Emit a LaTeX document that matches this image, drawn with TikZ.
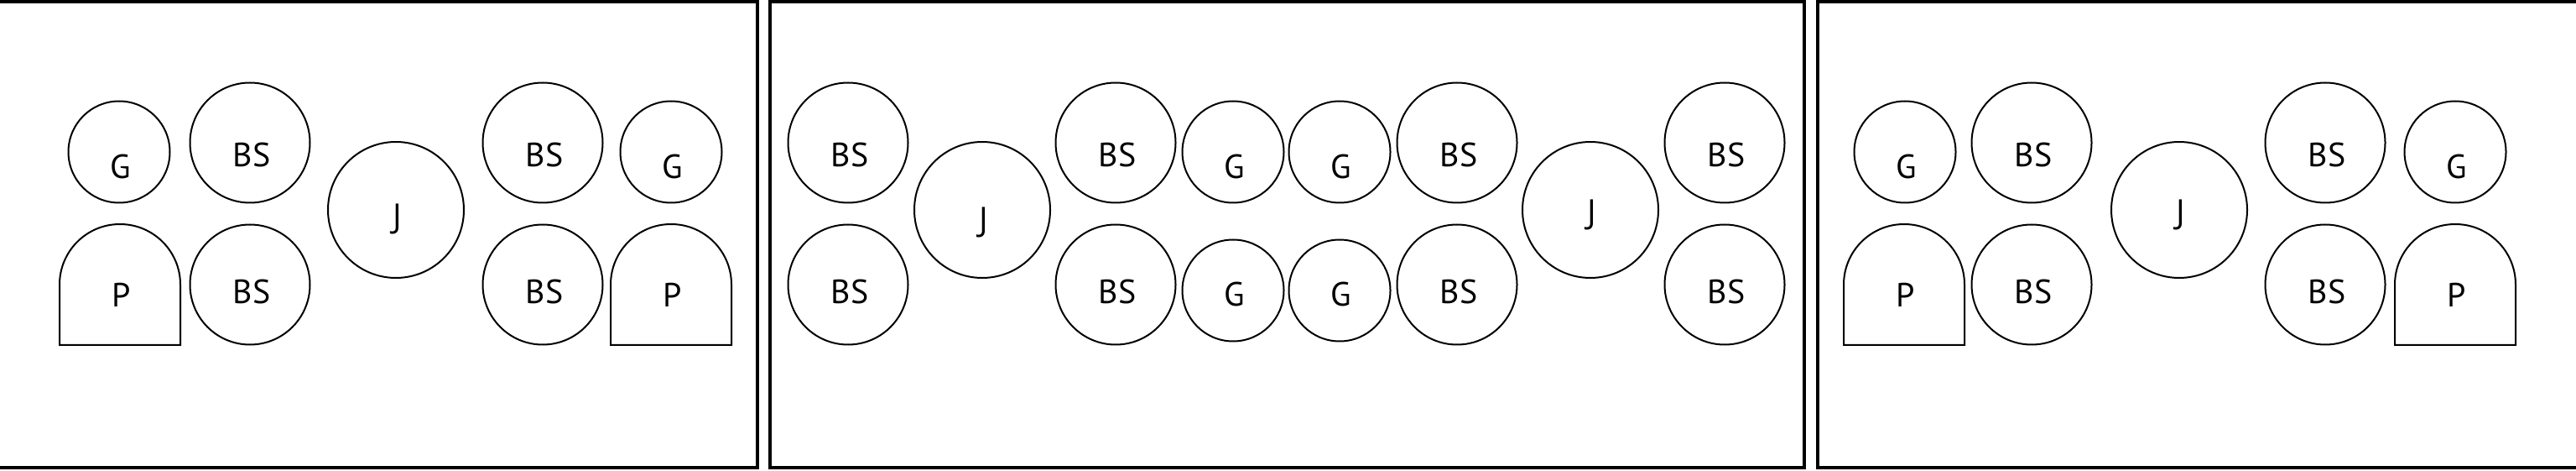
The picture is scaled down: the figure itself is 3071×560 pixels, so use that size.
\documentclass[tikz,border=0pt]{standalone}
\usepackage{fontspec}
\setmainfont{PT Sans}
\newfontfamily\jfont{Open Sans}
\begin{document}
\begin{tikzpicture}[x=1pt,y=1pt,
  bs/.style={circle, draw, line width=2pt, minimum size=143pt, inner sep=0pt},
  gg/.style={circle, draw, line width=2pt, minimum size=121pt, inner sep=0pt},
  jj/.style={circle, draw, line width=2pt, minimum size=162pt, inner sep=0pt},
  lbl/.style={anchor=base, font=\fontsize{40}{42}\selectfont, inner sep=0pt, xshift=2pt},
  jlbl/.style={lbl, font=\jfont\fontsize{40}{42}\selectfont},
  frm/.style={draw, line width=4pt},
  pshape/.style={draw, line width=2pt, line join=miter}]
\useasboundingbox (0,0) rectangle (3071,560);
% frames
\draw[frm] (-10,3) rectangle (903,558);
\draw[frm] (918,3) rectangle (2151,558);
\draw[frm] (2167,3) rectangle (3081,558);
% frame 1
\node[gg] (a1) at (142,379) {};
\node[bs] (a2) at (298,390) {};
\node[bs] (a3) at (298,221) {};
\node[jj] (a4) at (472,310) {};
\node[bs] (a5) at (647,390) {};
\node[bs] (a6) at (647,221) {};
\node[gg] (a7) at (800,379) {};
\coordinate (p1) at (143,221);
\coordinate (p2) at (800,221);
\draw[pshape] (71,149) -- (71,221) arc[start angle=180,end angle=0,radius=72] -- (215,149) -- cycle;
\draw[pshape] (728,149) -- (728,221) arc[start angle=180,end angle=0,radius=72] -- (872,149) -- cycle;
\node[lbl] (la1) at ([yshift=-32pt]a1.center) {G};
\node[lbl] (la2) at ([yshift=-29pt]a2.center) {BS};
\node[lbl] (la3) at ([yshift=-23pt]a3.center) {BS};
\node[jlbl] (la4) at ([yshift=-21.5pt]a4.center) {J};
\node[lbl] (la5) at ([yshift=-29pt]a5.center) {BS};
\node[lbl] (la6) at ([yshift=-23pt]a6.center) {BS};
\node[lbl] (la7) at ([yshift=-32pt]a7.center) {G};
\node[lbl] (lp1) at ([yshift=-27pt]p1) {P};
\node[lbl] (lp2) at ([yshift=-27pt]p2) {P};
% frame 2
\node[bs] (b1) at (1011,390) {};
\node[bs] (b2) at (1011,221) {};
\node[jj] (b3) at (1171,310) {};
\node[bs] (b4) at (1330,390) {};
\node[bs] (b5) at (1330,221) {};
\node[gg] (b6) at (1470,379) {};
\node[gg] (b7) at (1470,214) {};
\node[gg] (b8) at (1597,379) {};
\node[gg] (b9) at (1597,214) {};
\node[bs] (b10) at (1737,390) {};
\node[bs] (b11) at (1737,221) {};
\node[jj] (b12) at (1896,310) {};
\node[bs] (b13) at (2056,390) {};
\node[bs] (b14) at (2056,221) {};
\node[lbl] (lb1) at ([yshift=-29pt]b1.center) {BS};
\node[lbl] (lb2) at ([yshift=-23pt]b2.center) {BS};
\node[jlbl] (lb3) at ([yshift=-25.5pt]b3.center) {J};
\node[lbl] (lb4) at ([yshift=-29pt]b4.center) {BS};
\node[lbl] (lb5) at ([yshift=-23pt]b5.center) {BS};
\node[lbl] (lb6) at ([yshift=-32pt]b6.center) {G};
\node[lbl] (lb7) at ([yshift=-19pt]b7.center) {G};
\node[lbl] (lb8) at ([yshift=-32pt]b8.center) {G};
\node[lbl] (lb9) at ([yshift=-19pt]b9.center) {G};
\node[lbl] (lb10) at ([yshift=-29pt]b10.center) {BS};
\node[lbl] (lb11) at ([yshift=-23pt]b11.center) {BS};
\node[jlbl] (lb12) at ([yshift=-17pt]b12.center) {J};
\node[lbl] (lb13) at ([yshift=-29pt]b13.center) {BS};
\node[lbl] (lb14) at ([yshift=-23pt]b14.center) {BS};
% frame 3
\node[gg] (c1) at (2271,379) {};
\node[bs] (c2) at (2422,390) {};
\node[bs] (c3) at (2422,221) {};
\node[jj] (c4) at (2598,310) {};
\node[bs] (c5) at (2772,390) {};
\node[bs] (c6) at (2772,221) {};
\node[gg] (c7) at (2927,379) {};
\coordinate (p3) at (2270,221);
\coordinate (p4) at (2927,221);
\draw[pshape] (2198,149) -- (2198,221) arc[start angle=180,end angle=0,radius=72] -- (2342,149) -- cycle;
\draw[pshape] (2855,149) -- (2855,221) arc[start angle=180,end angle=0,radius=72] -- (2999,149) -- cycle;
\node[lbl] (lc1) at ([yshift=-32pt]c1.center) {G};
\node[lbl] (lc2) at ([yshift=-29pt]c2.center) {BS};
\node[lbl] (lc3) at ([yshift=-23pt]c3.center) {BS};
\node[jlbl] (lc4) at ([yshift=-17pt]c4.center) {J};
\node[lbl] (lc5) at ([yshift=-29pt]c5.center) {BS};
\node[lbl] (lc6) at ([yshift=-23pt]c6.center) {BS};
\node[lbl] (lc7) at ([yshift=-32pt]c7.center) {G};
\node[lbl] (lp3) at ([yshift=-27pt]p3) {P};
\node[lbl] (lp4) at ([yshift=-27pt]p4) {P};
\end{tikzpicture}
\end{document}
